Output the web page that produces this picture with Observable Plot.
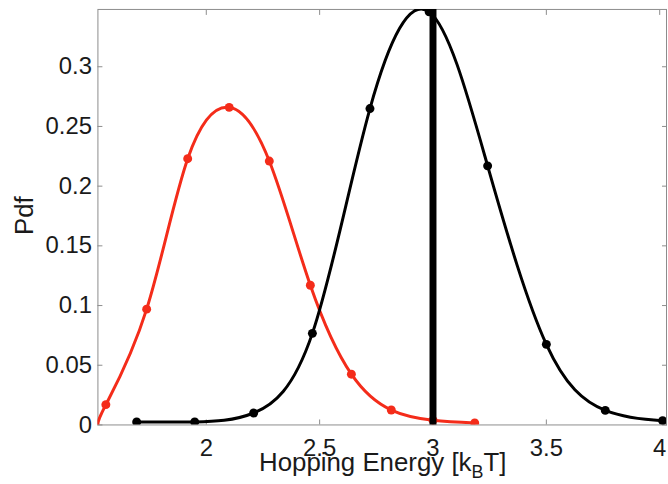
<!DOCTYPE html>
<html>
<head>
<meta charset="utf-8">
<script src="https://cdn.jsdelivr.net/npm/d3@7"></script>
<script src="https://cdn.jsdelivr.net/npm/@observablehq/plot@0.6"></script>
<style>
  html, body { margin: 0; padding: 0; background: #fff; overflow: hidden; }
  #chart { width: 668px; height: 484px; overflow: hidden; }
</style>
</head>
<body>
<div id="chart"></div>
<script>
// ---- tick values and labels ----
const xTicks = [2, 2.5, 3, 3.5, 4];
const xTickLabels = ["2", "2.5", "3", "3.5", "4"];
const yTicks = [0, 0.05, 0.1, 0.15, 0.2, 0.25, 0.3];
const yTickLabels = ["0", "0.05", "0.1", "0.15", "0.2", "0.25", "0.3"];
const xDomain = [1.522, 4.03];
const yDomain = [0, 0.348];

// ---- red series (curve = markers plus the left end at the axis) ----
const redCurveX = [1.522, 1.557, 1.737, 1.918, 2.101, 2.278, 2.459, 2.640, 2.816, 3.000, 3.184];
const redCurveY = [0.000, 0.017, 0.097, 0.223, 0.266, 0.221, 0.117, 0.0425, 0.0125, 0.004, 0.0017];
const redMarkX = [1.557, 1.737, 1.918, 2.101, 2.278, 2.459, 2.640, 2.816, 3.000, 3.184];
const redMarkY = [0.017, 0.097, 0.223, 0.266, 0.221, 0.117, 0.0425, 0.0125, 0.004, 0.0017];

// ---- black series ----
const blackCurveX = [1.693, 1.949, 2.209, 2.468, 2.722, 2.983, 3.241, 3.500, 3.760, 4.013, 4.030];
const blackCurveY = [0.0025, 0.0025, 0.010, 0.0767, 0.265, 0.346, 0.217, 0.0675, 0.0122, 0.0036, 0.0034];
const blackMarkX = [1.693, 1.949, 2.209, 2.468, 2.722, 2.983, 3.241, 3.500, 3.760, 4.013];
const blackMarkY = [0.0025, 0.0025, 0.010, 0.0767, 0.265, 0.346, 0.217, 0.0675, 0.0122, 0.0036];

// ---- vertical reference line ----
const refX = [3.0];
const refTop = 0.348;

const red = "#f42c1a";
const axisGray = "#8c8c8c";
const textColor = "#1a1a1a";

const toRows = (xs, ys) => xs.map((x, i) => ({x, y: ys[i]}));
const redCurve = toRows(redCurveX, redCurveY);
const redMarks = toRows(redMarkX, redMarkY);
const blackCurve = toRows(blackCurveX, blackCurveY);
const blackMarks = toRows(blackMarkX, blackMarkY);

const svg = Plot.plot({
  width: 672,
  height: 484,
  marginLeft: 98,
  marginRight: 2,
  marginTop: 9,
  marginBottom: 57,
  style: {fontFamily: "'Liberation Sans', Arial, Helvetica, sans-serif", background: "#fff"},
  x: {domain: xDomain, axis: null},
  y: {domain: yDomain, axis: null},
  marks: [
    Plot.frame({stroke: axisGray, strokeWidth: 1}),
    // inward ticks
    Plot.axisX({ticks: xTicks, anchor: "bottom", tickSize: -5, stroke: axisGray, tickFormat: () => "", label: null}),
    Plot.axisX({ticks: xTicks, anchor: "top", tickSize: -5, stroke: axisGray, tickFormat: () => "", label: null}),
    Plot.axisY({ticks: yTicks, anchor: "left", tickSize: -5, stroke: axisGray, tickFormat: () => "", label: null}),
    Plot.axisY({ticks: yTicks, anchor: "right", tickSize: -5, stroke: axisGray, tickFormat: () => "", label: null}),
    // tick labels
    Plot.axisX({ticks: xTicks, anchor: "bottom", tickSize: 0, tickPadding: 14, fontSize: 24, fill: textColor,
      tickFormat: d => xTickLabels[xTicks.indexOf(d)], label: null}),
    Plot.axisY({ticks: yTicks, anchor: "left", tickSize: 0, tickPadding: 6, fontSize: 24, fill: textColor,
      tickFormat: d => yTickLabels[yTicks.indexOf(d)], label: null}),
    // red
    Plot.line(redCurve, {x: "x", y: "y", stroke: red, strokeWidth: 3, curve: "natural", clip: true}),
    Plot.dot(redMarks, {x: "x", y: "y", r: 4.5, fill: red, stroke: "none", clip: true}),
    // black
    Plot.line(blackCurve, {x: "x", y: "y", stroke: "#000", strokeWidth: 3, curve: "natural", clip: true}),
    Plot.dot(blackMarks, {x: "x", y: "y", r: 4.5, fill: "#000", stroke: "none", clip: true}),
    // vertical bar
    Plot.ruleX(refX, {y1: 0, y2: refTop, stroke: "#000", strokeWidth: 7})
  ]
});

const s = d3.select(svg);
// x axis label with subscript
const xl = s.append("text")
  .attr("x", 385).attr("y", 474)
  .attr("text-anchor", "middle")
  .attr("font-size", 26)
  .attr("fill", textColor)
  .attr("font-family", "'Liberation Sans', Arial, Helvetica, sans-serif");
xl.append("tspan").text("Hopping Energy [k");
xl.append("tspan").attr("font-size", 18).attr("dy", 7).text("B");
xl.append("tspan").attr("dy", -7).text("T]");
// y axis label
s.append("text")
  .attr("transform", "translate(33,217) rotate(-90)")
  .attr("text-anchor", "middle")
  .attr("font-size", 26)
  .attr("fill", textColor)
  .attr("font-family", "'Liberation Sans', Arial, Helvetica, sans-serif")
  .text("Pdf");

document.getElementById("chart").appendChild(svg);
</script>
</body>
</html>
